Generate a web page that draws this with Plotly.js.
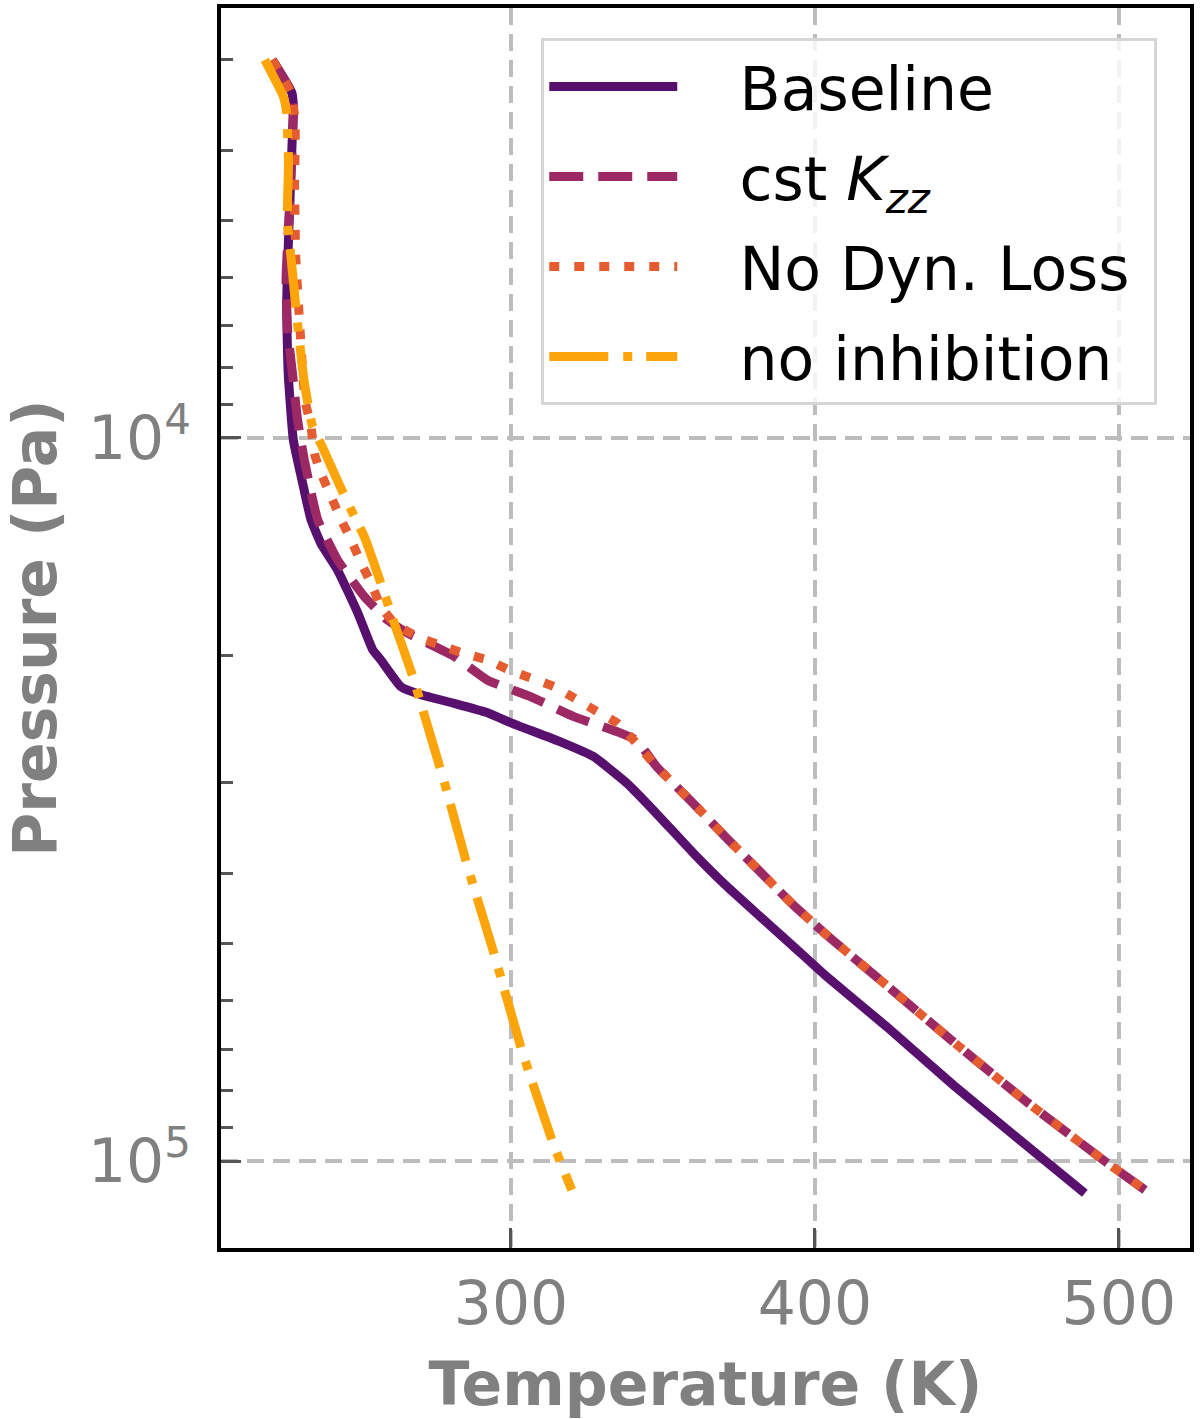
<!DOCTYPE html>
<html>
<head>
<meta charset="utf-8">
<script src="https://cdn.plot.ly/plotly-3.0.1.min.js"></script>
<style>body{margin:0;background:#fff}</style>
</head>
<body>
<div id="tp_graph" style="width:1200px;height:1419px"></div>
<script>
// T-P profiles (K, Pa)

const baseline_T = [221.5, 227.9, 228.4, 227.9, 226.8, 226.2, 226.7, 228.4, 231.7, 234.2, 237.5, 243.0, 249.6, 254.5, 257.2, 263.8, 270.4, 281.3, 292.3, 300.0, 316.1, 327.1, 338.1, 346.8, 360.0, 371.0, 381.9, 392.9, 403.9, 423.6, 445.5, 467.4, 488.8];
const baseline_P = [3000, 3330, 3480, 4000, 5320, 6580, 8130, 10070, 11670, 12970, 14000, 15240, 17460, 19630, 20280, 22080, 22650, 23280, 23990, 24770, 26300, 27570, 30010, 32700, 37500, 41690, 45880, 50470, 55590, 65200, 78500, 93540, 110800];

const kzz_T = [221.5, 227.9, 228.4, 227.5, 226.0, 226.5, 228.1, 229.8, 232.0, 236.4, 243.0, 251.7, 259.4, 266.0, 281.3, 292.3, 306.6, 320.5, 334.8, 341.3, 347.9, 358.9, 370.4, 381.9, 392.9, 403.9, 420.8, 445.5, 469.6, 495.4, 508.6];
const kzz_P = [3000, 3330, 3550, 4470, 6030, 7080, 8130, 9440, 10720, 12970, 14760, 16560, 17860, 18620, 20040, 21630, 22800, 24270, 25470, 26180, 28480, 31680, 35560, 39770, 44250, 48700, 55880, 68390, 82790, 100070, 109670];

const nodyn_T = [221.5, 227.5, 229.0, 228.8, 229.2, 230.6, 232.2, 234.2, 235.3, 237.5, 240.8, 244.1, 247.4, 250.7, 254.0, 257.2, 261.6, 269.3, 276.4, 284.6, 292.3, 299.4, 306.6, 314.3, 321.0, 328.2, 334.8, 340.8, 347.9, 358.9, 370.4, 381.9, 392.9, 403.9, 420.8, 445.5, 469.6, 495.4, 508.6];
const nodyn_P = [3000, 3330, 3630, 4470, 5620, 7080, 8850, 9640, 10500, 11190, 12050, 12970, 13840, 14890, 15890, 17100, 18030, 18840, 19320, 19860, 20280, 20940, 21480, 22080, 22910, 23880, 24770, 26300, 28480, 31680, 35560, 39770, 44250, 48700, 55880, 68390, 82790, 100070, 109670];

const noinhib_T = [219.0, 225.1, 226.2, 226.8, 226.4, 227.6, 229.2, 231.9, 234.7, 237.9, 243.8, 248.5, 251.8, 257.2, 261.6, 267.7, 278.8, 285.4, 294.7, 303.5, 313.9, 320.0];
const noinhib_P = [3000, 3370, 3550, 4170, 5010, 5610, 6580, 8320, 9640, 10280, 11670, 12850, 13710, 15890, 18030, 21380, 30690, 38730, 52120, 70150, 94620, 109650];

// leading spaces keep the gap between legend line and label
const pad = "\u00a0\u00a0\u00a0";
const series_names = [pad + "Baseline", pad + "cst <i>K<sub>zz</sub></i>", pad + "No Dyn. Loss\u00a0", pad + "no inhibition"];

// minor ticks on the pressure axis (2..9 x 10^3, 10^4)
let minor_P = [];
for (let d of [1000, 10000]) {
	for (let m = 2; m <= 9; m++) minor_P.push(m * d);
}

function profile(x, y, name, color, dash, group) {
	return {
		x: x,
		y: y,
		type: "scatter",
		mode: "lines",
		name: name,
		legendgroup: group,
		line: { color: color, width: 9, dash: dash, shape: "spline", smoothing: 0.4 },
	};
}

let data = [
		profile(baseline_T, baseline_P, series_names[0], "#57106e", "solid", "a"),
		profile(kzz_T, kzz_P, series_names[1], "#9c2964", "34px,15px", "b"),
		profile(nodyn_T, nodyn_P, series_names[2], "#e55c30", "10px,15px", "c"),
		profile(noinhib_T, noinhib_P, series_names[3], "#fca50a", "59px,15px,9px,14px", "d"),
	],
	layout = {
		width: 1200,
		height: 1419,
		paper_bgcolor: "#ffffff",
		plot_bgcolor: "#ffffff",
		font: { family: "DejaVu Sans", color: "#808080", size: 60 },
		showlegend: true,
		legend: {
			x: 0.3305,
			y: 0.9758,
			xanchor: "left",
			yanchor: "top",
			bgcolor: "rgba(255,255,255,0.8)",
			bordercolor: "#d6d6d6",
			borderwidth: 3,
			font: { color: "#000000", size: 60 },
			itemwidth: 128,
			tracegroupgap: 9,
		},
		margin: { l: 221, r: 10, t: 8, b: 171, pad: 0 },
		xaxis: {
			range: [204.6, 523.4],
			tickvals: [300, 400, 500],
			ticks: "inside",
			ticklen: 20,
			tickwidth: 3,
			tickcolor: "#555555",
			showline: true,
			mirror: true,
			linecolor: "#000000",
			linewidth: 4,
			showgrid: true,
			gridcolor: "#bdbdbd",
			gridwidth: 4,
			griddash: "17px,9px",
			zeroline: false,
			title: { text: "<b>Temperature (K)</b>", font: { size: 60, color: "#808080" }, standoff: 30 },
		},
		yaxis: {
			type: "log",
			range: [5.1203, 3.4053],
			tickvals: [10000, 100000],
			ticktext: ["10<sup>4</sup>", "10<sup>5</sup>"],
			ticks: "inside",
			ticklen: 20,
			tickwidth: 3,
			tickcolor: "#555555",
			ticklabelstandoff: 14,
			minor: { tickvals: minor_P, ticks: "inside", ticklen: 12, tickwidth: 3, tickcolor: "#555555", showgrid: false },
			showline: true,
			mirror: true,
			linecolor: "#000000",
			linewidth: 4,
			showgrid: true,
			gridcolor: "#bdbdbd",
			gridwidth: 4,
			griddash: "17px,9px",
			zeroline: false,
			title: { text: "<b>Pressure (Pa)</b>", font: { size: 60, color: "#808080" }, standoff: 24 },
		},
	};

Plotly.newPlot("tp_graph", data, layout, { staticPlot: true });
</script>
</body>
</html>
